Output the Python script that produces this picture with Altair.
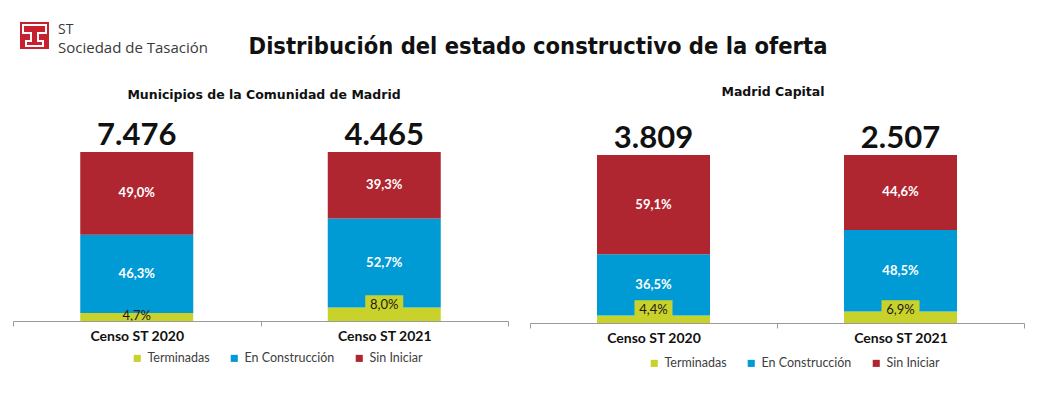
import altair as alt
import pandas as pd

censos = ["Censo ST 2020", "Censo ST 2021"]
categorias = ["Terminadas", "En Construcción", "Sin Iniciar"]

mun_terminadas = [4.7, 8.0]
mun_construccion = [46.3, 52.7]
mun_sin_iniciar = [49.0, 39.3]
mun_totales = [7476, 4465]

cap_terminadas = [4.4, 6.9]
cap_construccion = [36.5, 48.5]
cap_sin_iniciar = [59.1, 44.6]
cap_totales = [3809, 2507]

colores = ["#C9D22A", "#009AD5", "#AF2630"]
FONT = "Lato"
TFONT = "DejaVu Sans"
BOX = "M-1,-0.45H1V0.45H-1Z"
LOGO = ("M-11.5,-10.5H11.5V-2.5H3.5V5.5H8.5V10.5H-8.5V5.5H-3.5V-2.5H-11.5Z")


def panel(term, cons, sini, totals, width, height, top_px, subtitle,
          sub_x, sub_y, label_dy, legend_x, legend_y, extra=None):
    px_per_pct = (height - top_px) / 100.0
    rows = []
    for i, c in enumerate(censos):
        for k, (cat, vals) in enumerate(zip(categorias, [term, cons, sini])):
            rows.append({"censo": c, "cat": cat, "ord": k, "pct": vals[i],
                         "dy": label_dy[i] if k == 0 else 0})
    df = pd.DataFrame(rows)
    tdf = pd.DataFrame({"censo": censos, "total": totals,
                        "top": [term[i] + cons[i] + sini[i] for i in range(2)]})

    yscale = alt.Scale(domain=[0, 100], range=[height, top_px])
    x = alt.X("censo:N", sort=censos,
              scale=alt.Scale(domain=censos, paddingInner=0, paddingOuter=0),
              axis=alt.Axis(title=None, labelAngle=0, labelFont=FONT,
                            labelFontWeight="bold", labelFontSize=14,
                            labelColor="#111111", domainColor="#9a9a9a",
                            tickColor="#9a9a9a", tickBand="extent", tickSize=5,
                            labelPadding=3, zindex=1))

    base = alt.Chart(df).transform_stack(
        stack="pct", groupby=["censo"],
        sort=[alt.SortField("ord", order="ascending")], as_=["y0", "y1"]
    ).transform_calculate(
        mid="(datum.y0 + datum.y1) / 2",
        lbl="replace(format(datum.pct, '.1f'), '.', ',') + '%'",
    ).transform_calculate(
        tpos=f"datum.mid - datum.dy / {px_per_pct}",
        bpos=f"datum.mid - (datum.dy - 1.5) / {px_per_pct}",
    )

    bars = base.mark_bar(size=113).encode(
        x=x,
        y=alt.Y("y0:Q", scale=yscale, axis=None),
        y2="y1:Q",
        color=alt.Color("cat:N", scale=alt.Scale(domain=categorias, range=colores),
                        legend=alt.Legend(orient="none", legendX=legend_x,
                                          legendY=legend_y, direction="horizontal",
                                          title=None, symbolType="square",
                                          symbolSize=50, symbolStrokeWidth=0,
                                          labelFont=FONT, labelFontSize=12.5,
                                          labelColor="#404040", columnPadding=18,
                                          labelOffset=4)),
    )

    white = base.transform_filter("datum.ord > 0").mark_text(
        color="white", font=FONT, fontWeight="bold", fontSize=13
    ).encode(x=x, y=alt.Y("mid:Q", scale=yscale), text="lbl:N")

    box = base.transform_filter("datum.ord == 0 && datum.dy < -2").mark_point(
        shape=BOX, size=1444, filled=True, opacity=1, color=colores[0], strokeWidth=0
    ).encode(x=x, y=alt.Y("bpos:Q", scale=yscale))

    dark = base.transform_filter("datum.ord == 0").mark_text(
        color="#1a1a1a", font=FONT, fontSize=13
    ).encode(x=x, y=alt.Y("tpos:Q", scale=yscale), text="lbl:N")

    tot = alt.Chart(tdf).transform_calculate(
        tl="replace(format(datum.total, ','), ',', '.')"
    ).mark_text(font=FONT, fontWeight="bold", fontSize=31, color="#111111",
                baseline="alphabetic", dy=-7).encode(
        x=x, y=alt.Y("top:Q", scale=yscale), text="tl:N")

    sub = alt.Chart(alt.Data(values=[{}])).mark_text(
        text=subtitle, font=TFONT, fontWeight="bold", fontSize=12.5, color="#111111"
    ).encode(x=alt.value(sub_x), y=alt.value(sub_y))

    layers = [bars, box, white, dark, tot, sub] + (extra or [])
    return alt.layer(*layers).properties(width=width, height=height)


one = alt.Data(values=[{}])
main_title = alt.Chart(one).mark_text(
    text="Distribución del estado constructivo de la oferta",
    font="DejaVu Sans Condensed", fontWeight="bold", fontSize=23.5, color="#111111"
).encode(x=alt.value(525), y=alt.value(39))

logo_red = alt.Chart(one).mark_rect(color="#C8202F").encode(
    x=alt.value(7), x2=alt.value(36), y=alt.value(14), y2=alt.value(41))
logo_shape = alt.Chart(one).mark_point(
    shape=LOGO, size=4, filled=False, stroke="white", strokeWidth=2, opacity=1
).encode(x=alt.value(21.5), y=alt.value(27.5))
logo_t1 = alt.Chart(one).mark_text(
    text="ST", font="Open Sans", fontSize=14, color="#3a3a3a", align="left"
).encode(x=alt.value(45), y=alt.value(21.5))
logo_t2 = alt.Chart(one).mark_text(
    text="Sociedad de Tasación", font="Open Sans", fontSize=15, color="#3a3a3a",
    align="left"
).encode(x=alt.value(45), y=alt.value(40))

left = panel(mun_terminadas, mun_construccion, mun_sin_iniciar, mun_totales,
             495, 313, 144, "Municipios de la Comunidad de Madrid", 251, 87,
             [-1, -9], 118, 344,
             extra=[main_title, logo_red, logo_shape, logo_t1, logo_t2])
right = panel(cap_terminadas, cap_construccion, cap_sin_iniciar, cap_totales,
              494, 315, 147, "Madrid Capital", 243, 84,
              [-9, -7], 118, 349)

chart = alt.hconcat(left, right, spacing=22, bounds="flush").resolve_scale(
    color="independent").resolve_legend(color="independent").properties(
    padding={"left": 4, "top": 0, "right": 5, "bottom": 5}
).configure_view(stroke=None)

chart.save("out.html", embed_options={"renderer": "svg", "actions": False})
